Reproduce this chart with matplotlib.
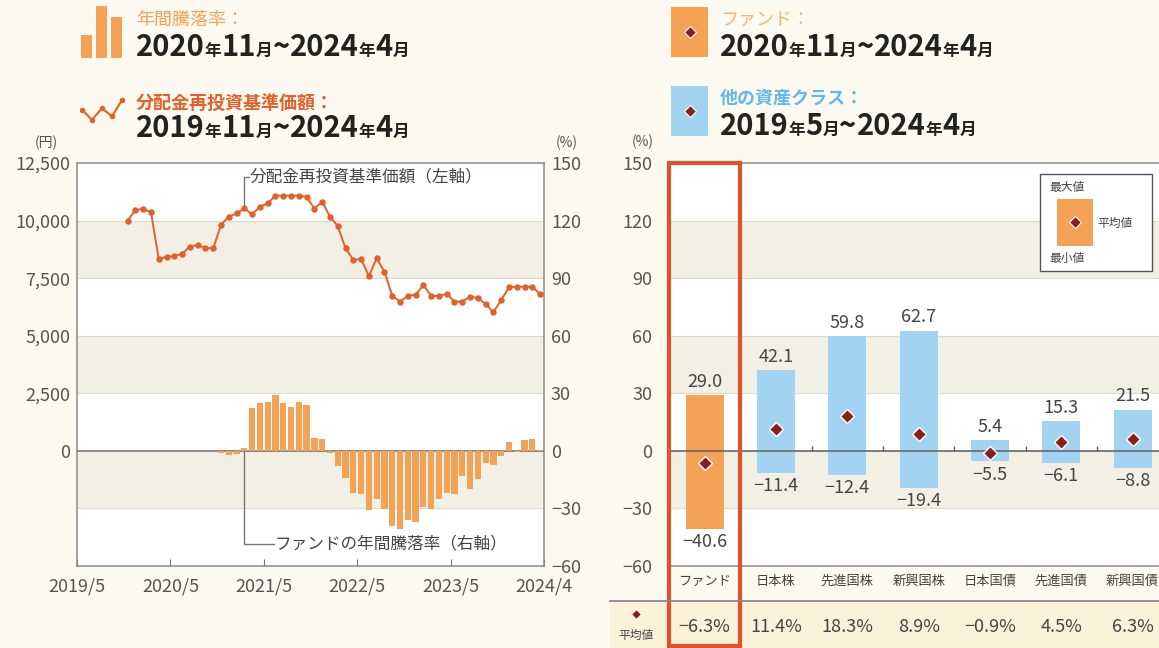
import numpy as np
import matplotlib
matplotlib.use("Agg")
import matplotlib.pyplot as plt
from matplotlib.patches import Rectangle
from matplotlib.transforms import blended_transform_factory

plt.rcParams["font.family"] = ["Noto Sans CJK JP", "DejaVu Sans"]

W, H = 1159, 648

# ---- left chart data (month index counted from 2019/5) ----
nav_start = 6    # 2019/11
nav = [10000, 10460, 10500, 10370, 8330, 8430, 8460, 8550, 8870, 8940,
       8810, 8790, 9810, 10170, 10310, 10530, 10270, 10600, 10750, 11080,
       11080, 11080, 11080, 11030, 10520, 10820, 10170, 9760, 8800, 8290,
       8330, 7590, 8360, 7780, 6740, 6480, 6730, 6780, 7200, 6730,
       6730, 6820, 6480, 6480, 6700, 6630, 6380, 6020, 6550, 7100,
       7130, 7130, 7130, 6810]
ret_start = 18   # 2020/11
ret = [-1.0, -2.0, -1.5, 1.5, 22.5, 25.0, 25.4, 29.0, 24.9, 22.8,
       25.4, 24.0, 6.5, 6.0, -1.0, -8.1, -14.4, -22.1, -22.6, -30.7,
       -25.2, -30.4, -38.9, -40.6, -35.8, -36.9, -29.0, -30.4, -25.2, -21.8,
       -22.6, -13.2, -19.7, -14.9, -6.3, -7.2, -2.5, 4.5, -0.5, 5.5,
       6.0, 0.5]
x_labels = ["2019/5", "2020/5", "2021/5", "2022/5", "2023/5", "2024/4"]
yen_ticks = [0, 2500, 5000, 7500, 10000, 12500]
pct_ticks = [-60, -30, 0, 30, 60, 90, 120, 150]

# ---- right chart data ----
cats = ["ファンド", "日本株", "先進国株", "新興国株", "日本国債", "先進国債", "新興国債"]
max_vals = [29.0, 42.1, 59.8, 62.7, 5.4, 15.3, 21.5]
min_vals = [-40.6, -11.4, -12.4, -19.4, -5.5, -6.1, -8.8]
avg_vals = [-6.3, 11.4, 18.3, 8.9, -0.9, 4.5, 6.3]

BG = "#fbf9f0"
BAND = "#f2f0e4"
GRID = "#dcdbd0"
ORANGE = "#f4a255"
LINE = "#e2612b"
BLUE = "#a2d3f1"
DIAMOND = "#8c1d1d"
TXT = "#444444"
RED = "#e0522a"
NUM = 13


def fx(x):
    return x / W


def fy(y):
    return 1 - y / H


fig = plt.figure(figsize=(W / 100, H / 100), dpi=100, facecolor=BG)
renderer = fig.canvas.get_renderer()


def parts_text(x, y, parts, color, weight="bold"):
    for s, size in parts:
        t = fig.text(fx(x), fy(y), s, fontsize=size, color=color,
                     fontweight=weight, va="baseline", ha="left")
        x += t.get_window_extent(renderer).width


def date_parts(y1, m1, y2, m2, big=21, small=12):
    return [(y1, big), ("年", small), (m1, big), ("月", small), ("~", big),
            (y2, big), ("年", small), (m2, big), ("月", small)]


def bands(ax, edges):
    for k in range(len(edges) - 1):
        col = BAND if (len(edges) - 2 - k) % 2 == 1 else "white"
        ax.axhspan(edges[k], edges[k + 1], color=col, lw=0, zorder=0)
    for e in edges[1:-1]:
        ax.axhline(e, color=GRID, lw=0.8, zorder=0.5)


# ================= left chart =================
ax1 = fig.add_axes([fx(77), fy(566), fx(544) - fx(77), fy(163) - fy(566)])
ax1.set_xlim(0, 60)
ax1.set_ylim(-5000, 12500)
bands(ax1, [-5000, -2500, 0, 2500, 5000, 7500, 10000, 12500])
ax1.axhline(0, color="#707070", lw=1.1, zorder=3)

nav_x = np.arange(len(nav)) + nav_start + 0.5
ax1.plot(nav_x, nav, color=LINE, lw=1.4, marker="o", ms=3.6, zorder=4)

ax1.set_yticks(yen_ticks)
ax1.set_yticklabels([f"{v:,}" for v in yen_ticks])
ax1.set_xticks(np.arange(0, 61, 12))
ax1.set_xticklabels(x_labels)
ax1.tick_params(axis="y", length=0, pad=5, labelsize=NUM, labelcolor="#555555")
ax1.tick_params(axis="x", direction="in", length=5, color="#777777", pad=8,
                labelsize=NUM, labelcolor="#555555")
for s in ax1.spines.values():
    s.set_color("#8a8a8a")
    s.set_linewidth(1.1)

ax1r = ax1.twinx()
ax1r.set_ylim(-60, 150)
ret_x = np.arange(len(ret)) + ret_start + 0.5
ax1r.bar(ret_x, ret, width=0.8, color=ORANGE, zorder=2)
ax1r.set_yticks(pct_ticks)
ax1r.set_yticklabels([f"{v}".replace("-", "−") for v in pct_ticks])
ax1r.tick_params(axis="y", length=0, pad=5, labelsize=NUM, labelcolor="#555555")
for s in ax1r.spines.values():
    s.set_visible(False)

# annotations
lx = 21.5
ax1.plot([lx, lx, lx + 0.6], [nav[15], 11900, 11900], color="#777777", lw=1, zorder=3)
ax1.text(lx + 0.7, 11900, "分配金再投資基準価額（左軸）", fontsize=12, color=TXT,
         va="center", ha="left")
ax1r.plot([lx, lx, lx + 3.8], [0, -48.5, -48.5], color="#777777", lw=1, zorder=3)
ax1r.text(lx + 3.9, -48.5, "ファンドの年間騰落率（右軸）", fontsize=12, color=TXT,
          va="center", ha="left")

fig.text(fx(46), fy(143), "(円)", fontsize=10, color="#555555", ha="center", va="center")
fig.text(fx(567), fy(143), "(%)", fontsize=10, color="#555555", ha="center", va="center")

# ================= right chart =================
ax2 = fig.add_axes([fx(669), fy(566), 1 - fx(669), fy(163) - fy(566)])
ax2.set_xlim(-0.5, 6.37)
ax2.set_ylim(-60, 150)
bands(ax2, [-60, -30, 0, 30, 60, 90, 120, 150])
ax2.axhline(0, color="#606060", lw=1.1, zorder=3)
xc = np.arange(len(cats))
ax2.vlines(xc[1:-1] + 0.5, 0, 2.6, color="#606060", lw=1, zorder=3)

bar_cols = [ORANGE] + [BLUE] * (len(cats) - 1)
ax2.bar(xc, np.array(max_vals) - np.array(min_vals), bottom=min_vals,
        width=0.53, color=bar_cols, zorder=2)
ax2.plot(xc, avg_vals, ls="none", marker="D", ms=7, color=DIAMOND,
         mec="white", mew=1.0, zorder=5)
for i in xc:
    ax2.annotate(f"{max_vals[i]:.1f}", (i, max_vals[i]), xytext=(0, 3),
                 textcoords="offset points", ha="center", va="bottom",
                 fontsize=NUM, color=TXT)
    ax2.annotate(f"{min_vals[i]:.1f}".replace("-", "−"), (i, min_vals[i]),
                 xytext=(0, -3), textcoords="offset points", ha="center",
                 va="top", fontsize=NUM, color=TXT)

ax2.set_yticks(pct_ticks)
ax2.set_yticklabels([f"{v}".replace("-", "−") for v in pct_ticks])
ax2.set_xticks([])
ax2.tick_params(axis="y", length=0, pad=12, labelsize=NUM, labelcolor="#555555")
for k in ["top", "bottom", "left"]:
    ax2.spines[k].set_color("#8a8a8a")
    ax2.spines[k].set_linewidth(1.1)
ax2.spines["right"].set_visible(False)
fig.text(fx(643), fy(142), "(%)", fontsize=10, color="#555555", ha="center", va="center")

# category labels, average row
bt = blended_transform_factory(ax2.transData, fig.transFigure)
for i in xc:
    ax2.text(i, fy(581), cats[i], transform=bt, ha="center", va="center",
             fontsize=9.5, color=TXT)
fig.patches.append(Rectangle((fx(610), 0), 1 - fx(610), fy(602), transform=fig.transFigure,
                             facecolor="#fcf2da", edgecolor="none", zorder=-1))
fig.add_artist(plt.Line2D([fx(610), 1], [fy(601), fy(601)], color="#8a8a8a", lw=1.3))
for i in xc:
    ax2.text(i, fy(627), f"{avg_vals[i]:.1f}%".replace("-", "−"), transform=bt,
             ha="center", va="center", fontsize=NUM, color=TXT, zorder=8)
fig.add_artist(plt.Line2D([fx(636)], [fy(614)], ls="none", marker="D", ms=5.5,
                          color=DIAMOND, mec="white", mew=0.8))
fig.text(fx(636), fy(635), "平均値", fontsize=8.5, color=TXT, ha="center", va="center")

# red highlight around the fund column
ax2.add_patch(Rectangle((-0.5, fy(646)), 1.0, fy(163) - fy(646), transform=bt,
                        fill=False, edgecolor=RED, lw=3, clip_on=False, zorder=6))

# legend box in the right chart
fig.patches.append(Rectangle((fx(1040), fy(271)), fx(1152) - fx(1040), fy(174) - fy(271),
                             transform=fig.transFigure, facecolor="white",
                             edgecolor="#555555", lw=1, zorder=5))
fig.patches.append(Rectangle((fx(1057), fy(246)), fx(1093) - fx(1057), fy(199) - fy(246),
                             transform=fig.transFigure, facecolor=ORANGE,
                             edgecolor="none", zorder=6))
fig.add_artist(plt.Line2D([fx(1075)], [fy(222)], ls="none", marker="D", ms=6,
                          color=DIAMOND, mec="white", mew=0.8, zorder=7))
fig.text(fx(1049), fy(187), "最大値", fontsize=8.5, color=TXT, va="center", zorder=7)
fig.text(fx(1097), fy(223), "平均値", fontsize=8.5, color=TXT, va="center", zorder=7)
fig.text(fx(1049), fy(258), "最小値", fontsize=8.5, color=TXT, va="center", zorder=7)

# ================= header legends =================
icon_bars = [0.45, 1.0, 0.78]
axi = fig.add_axes([fx(80), fy(58), fx(123) - fx(80), fy(6) - fy(58)])
axi.bar(np.arange(3), icon_bars, width=0.72, color=ORANGE)
axi.set_xlim(-0.45, 2.45)
axi.set_ylim(0, 1)
axi.axis("off")

icon_line = [0.55, 0.25, 0.6, 0.35, 0.85]
axl = fig.add_axes([fx(80), fy(128), fx(124) - fx(80), fy(95) - fy(128)])
axl.plot(np.arange(5), icon_line, color=LINE, lw=1.5, marker="o", ms=3)
axl.set_xlim(-0.2, 4.2)
axl.set_ylim(0, 1)
axl.axis("off")

parts_text(136, 25, [("年間騰落率：", 13)], ORANGE, weight="normal")
parts_text(136, 56, date_parts("2020", "11", "2024", "4"), "#222222")
parts_text(136, 109, [("分配金再投資基準価額：", 13)], LINE, weight="bold")
parts_text(136, 137, date_parts("2019", "11", "2024", "4"), "#222222")

for y0, y1, col in [(7, 57, ORANGE), (86, 136, BLUE)]:
    fig.patches.append(Rectangle((fx(671), fy(y1)), fx(708) - fx(671), fy(y0) - fy(y1),
                                 transform=fig.transFigure, facecolor=col,
                                 edgecolor="none"))
    fig.add_artist(plt.Line2D([fx(690)], [fy((y0 + y1) / 2)], ls="none", marker="D",
                              ms=6, color=DIAMOND, mec="white", mew=0.8))

parts_text(720, 25, [("ファンド：", 13)], "#f5b478", weight="normal")
parts_text(720, 56, date_parts("2020", "11", "2024", "4"), "#222222")
parts_text(720, 104, [("他の資産クラス：", 13)], "#62b8e8", weight="bold")
parts_text(720, 135, date_parts("2019", "5", "2024", "4"), "#222222")

fig.savefig("out.png", dpi=100, facecolor=BG)
